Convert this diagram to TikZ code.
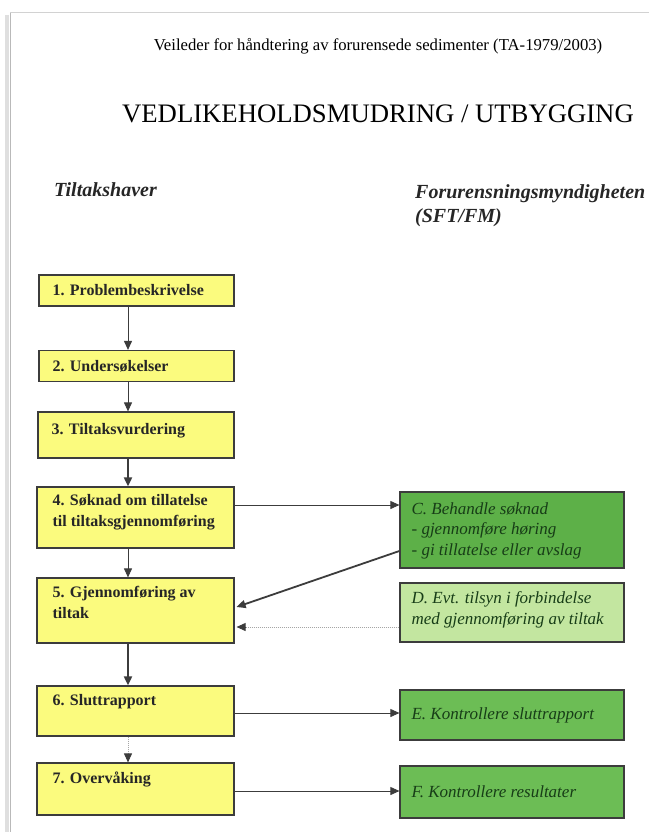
\documentclass[tikz,border=0pt]{standalone}
\usepackage{fontspec}
\setmainfont{Liberation Serif}
\usetikzlibrary{arrows.meta}
\definecolor{boxyellow}{HTML}{FBFB7E}
\definecolor{greenC}{HTML}{5DB048}
\definecolor{greenE}{HTML}{6CBD55}
\definecolor{greenD}{HTML}{C3E6A0}
\definecolor{greentext}{HTML}{173D17}
\definecolor{edge}{HTML}{3C3C3C}
\tikzset{
  ybox/.style={draw=edge, line width=1.2pt, fill=boxyellow, rectangle, inner sep=0pt},
  gbox/.style={draw=edge, line width=1.2pt, rectangle, inner sep=0pt},
  ytext/.style={anchor=north west, inner sep=0pt, align=left, font=\fontsize{16}{20.5}\selectfont\bfseries, text=black!85},
  gtext/.style={anchor=north west, inner sep=0pt, align=left, font=\fontsize{17}{20.5}\selectfont\itshape, text=greentext},
  conn/.style={draw=edge, line width=0.9pt, -{Triangle[length=9pt,width=8pt]}},
  connthick/.style={draw=edge, line width=1.8pt, -{Triangle[length=9pt,width=8pt]}},
  dotline/.style={draw=gray!70, line width=1pt, densely dotted},
  hdr/.style={anchor=base west, inner sep=0pt, font=\fontsize{20}{24}\selectfont\bfseries\itshape, text=black!85}
}
\begin{document}
\begin{tikzpicture}[x=1pt,y=-1pt]
\useasboundingbox (0,0) rectangle (649,832);
% page frame with shadow
\fill[white] (10,13) rectangle (649,832);
\draw[gray!25, line width=4pt] (7,15) -- (7,832);
\draw[gray!55, line width=1pt] (10,13) -- (10,832);
\draw[gray!35, line width=1pt] (10,13) -- (649,13);
% titles
\node[anchor=base, inner sep=0pt, font=\fontsize{16.7}{20}\selectfont] (sub) at (378,51) {Veileder for håndtering av forurensede sedimenter (TA-1979/2003)};
\node[anchor=base, inner sep=0pt, font=\fontsize{26.7}{30}\selectfont] (title) at (378,123) {VEDLIKEHOLDSMUDRING / UTBYGGING};
\node[hdr] (h1) at (54,196) {Tiltakshaver};
\node[hdr] (h2) at (415,198) {Forurensningsmyndigheten};
\node[hdr] (h3) at (415,222) {(SFT/FM)};
% left boxes
\node[ybox, minimum width=195pt, minimum height=31pt] (b1) at (136.5,290.5) {};
\node[ybox, minimum width=195pt, minimum height=31pt] (b2) at (136.5,366) {};
\node[ybox, minimum width=196pt, minimum height=46pt] (b3) at (136,435) {};
\node[ybox, minimum width=197pt, minimum height=61pt] (b4) at (135.5,517.5) {};
\node[ybox, minimum width=197pt, minimum height=65pt] (b5) at (135.5,610.5) {};
\node[ybox, minimum width=197pt, minimum height=50pt] (b6) at (135.5,711) {};
\node[ybox, minimum width=197pt, minimum height=52pt] (b7) at (135.5,789) {};
\node[ytext] (t1) at ([xshift=14pt,yshift=-10pt]b1.north west) {1. Problembeskrivelse};
\node[ytext] (t2) at ([xshift=14pt,yshift=-10pt]b2.north west) {2. Undersøkelser};
\node[ytext] (t3) at ([xshift=14pt,yshift=-12pt]b3.north west) {3. Tiltaksvurdering};
\node[ytext] (t4) at ([xshift=16pt,yshift=-8pt]b4.north west) {4. Søknad om tillatelse\\til tiltaksgjennomføring};
\node[ytext] (t5) at ([xshift=16pt,yshift=-9pt]b5.north west) {5. Gjennomføring av\\tiltak};
\node[ytext] (t6) at ([xshift=16pt,yshift=-9pt]b6.north west) {6. Sluttrapport};
\node[ytext] (t7) at ([xshift=16pt,yshift=-9pt]b7.north west) {7. Overvåking};
% right boxes
\node[gbox, fill=greenC, minimum width=224pt, minimum height=76pt] (c) at (512,530) {};
\node[gbox, fill=greenD, minimum width=224pt, minimum height=59pt] (d) at (512,612.5) {};
\node[gbox, fill=greenE, minimum width=224pt, minimum height=50pt] (e) at (512,715) {};
\node[gbox, fill=greenE, minimum width=224pt, minimum height=52pt] (f) at (512,792) {};
\node[gtext] (tc) at ([xshift=12pt,yshift=-11pt]c.north west) {C. Behandle søknad\\- gjennomføre høring\\- gi tillatelse eller avslag};
\node[gtext] (td) at ([xshift=12pt,yshift=-9pt]d.north west) {D. Evt. tilsyn i forbindelse\\med gjennomføring av tiltak};
\node[gtext, anchor=west] (te) at ([xshift=12pt]e.west) {E. Kontrollere sluttrapport};
\node[gtext, anchor=west] (tf) at ([xshift=12pt]f.west) {F. Kontrollere resultater};
% connectors
\draw[conn] (b1.south -| 128,0) -- (b2.north -| 128,0);
\draw[conn] (b2.south -| 128,0) -- (b3.north -| 128,0);
\draw[connthick] (b3.south -| 128,0) -- (b4.north -| 128,0);
\draw[conn] (b4.south -| 128,0) -- (b5.north -| 128,0);
\draw[connthick] (b5.south -| 128,0) -- (b6.north -| 128,0);
\draw[dotline] (b6.south -| 128,0) -- ([yshift=8pt]b7.north -| 128,0) coordinate (a67);
\draw[conn] (a67) -- (b7.north -| 128,0);
\draw[conn] (b4.east |- 0,505) -- (c.west |- 0,505);
\draw[connthick] (c.west |- 0,551) -- ([xshift=2pt]b5.east |- 0,607);
\draw[dotline] (d.west |- 0,627) -- ([xshift=10pt]b5.east |- 0,627) coordinate (a5d);
\draw[conn] (a5d) -- ([xshift=2pt]b5.east |- 0,627);
\draw[conn] (b6.east |- 0,713) -- (e.west |- 0,713);
\draw[conn] (b7.east |- 0,791) -- (f.west |- 0,791);
\end{tikzpicture}
\end{document}
